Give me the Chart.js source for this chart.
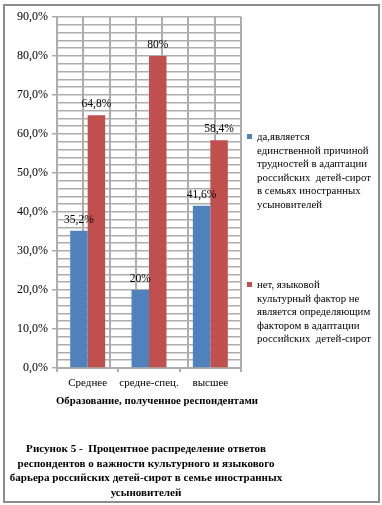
<!DOCTYPE html>
<html>
<head>
<meta charset="utf-8">
<script src="https://cdn.jsdelivr.net/npm/chart.js@4"></script>
<style>
  html, body { margin: 0; padding: 0; background: #fff; }
  #wrap { position: relative; width: 382px; height: 505px; overflow: hidden; font-family: "Liberation Serif", "Times New Roman", serif; color: #000; }
  #frame { position: absolute; left: 3px; top: 4px; width: 377px; height: 499px; box-sizing: border-box; border: 2px solid #8c8c8c; }
  #chart { position: absolute; left: 0; top: 0; }
  .legend-item { position: absolute; left: 257px; font-size: 10.8px; line-height: 13.5px; white-space: pre; }
  .legend-item i { position: absolute; left: -10px; top: 4px; width: 5px; height: 5px; }
  #xtitle { position: absolute; left: 0; width: 314px; top: 394px; text-align: center; font-weight: bold; font-size: 10.8px; white-space: nowrap; }
  #caption { position: absolute; left: 0; width: 292px; top: 441px; text-align: center; font-weight: bold; font-size: 11.1px; line-height: 14.7px; white-space: pre; }
</style>
</head>
<body>
<div id="wrap">
  <div id="frame"></div>
  <canvas id="chart" width="382" height="505"></canvas>
  <div id="legend"></div>
  <div id="xtitle"></div>
  <div id="caption"></div>
</div>
<script>
const categories = ["Среднее", "средне-спец.", "высшее"];
const yesValues = [35.2, 20, 41.6];
const noValues = [64.8, 80, 58.4];
const yesLabel = ["да,является", "единственной причиной", "трудностей в адаптации", "российских  детей-сирот", "в семьях иностранных", "усыновителей"];
const noLabel = ["нет, языковой", "культурный фактор не", "является определяющим", "фактором в адаптации", "российских  детей-сирот"];
const xTitle = "Образование, полученное респондентами";
const caption = ["Рисунок 5 -  Процентное распределение ответов", "респондентов о важности культурного и языкового", "барьера российских детей-сирот в семье иностранных", "усыновителей"];

const BLUE = "#4f81bd";
const RED = "#c0504d";
const GRID = "#adadad";
const FONT = "'Liberation Serif', 'Times New Roman', serif";

function fmtPct(v) {
  return String(v).replace(".", ",") + "%";
}

/* value labels above each bar */
const barLabels = {
  id: "barLabels",
  afterDatasetsDraw(chart) {
    const ctx = chart.ctx;
    ctx.save();
    ctx.font = "11.5px " + FONT;
    ctx.fillStyle = "#000";
    ctx.textAlign = "center";
    ctx.textBaseline = "middle";
    chart.data.datasets.forEach((ds, i) => {
      chart.getDatasetMeta(i).data.forEach((bar, j) => {
        ctx.fillText(fmtPct(ds.data[j]), bar.x, bar.y - 11);
      });
    });
    ctx.restore();
  },
};

new Chart(document.getElementById("chart"), {
  type: "bar",
  data: {
    labels: categories,
    datasets: [
      { label: yesLabel.join(" "), data: yesValues, backgroundColor: BLUE, categoryPercentage: 0.57, barPercentage: 1 },
      { label: noLabel.join(" "), data: noValues, backgroundColor: RED, categoryPercentage: 0.57, barPercentage: 1 },
    ],
  },
  options: {
    responsive: false, animation: false,
    layout: { padding: { left: 0, top: 17, right: 141, bottom: 117 } },
    plugins: { legend: { display: false }, tooltip: { enabled: false } },
    scales: {
      x: {
        grid: { drawOnChartArea: false, offset: true, color: GRID, lineWidth: 2, tickLength: 4 },
        border: { color: GRID, width: 2 },
        ticks: { color: "#000", font: { family: FONT, size: 11 }, padding: 5, maxRotation: 0, minRotation: 0, autoSkip: false },
        afterFit: (s) => { s.height = 20; },
      },
      x2: {
        type: "linear", position: "top", min: -0.5, max: 2.5,
        grid: { color: GRID, lineWidth: 2, drawTicks: false },
        border: { display: false },
        ticks: { display: false, stepSize: 0.5 },
        afterFit: (s) => { s.height = 0; },
      },
      y: {
        min: 0, max: 90,
        grid: {
          color: GRID, lineWidth: 1.5, tickLength: 5,
          tickColor: (c) => (c.tick && c.tick.value % 10 === 0 ? GRID : "transparent"),
        },
        border: { color: GRID, width: 2 },
        ticks: {
          stepSize: 2, autoSkip: false, color: "#000", padding: 4,
          font: { family: FONT, size: 12 },
          callback: (v) => (v % 10 === 0 ? v.toFixed(1).replace(".", ",") + "%" : ""),
        },
        afterFit: (s) => { s.width = 57; },
      },
    },
  },
  plugins: [barLabels],
});

/* legend */
const legend = document.getElementById("legend");
[[yesLabel, BLUE, 130], [noLabel, RED, 278]].forEach(([lines, color, top]) => {
  const d = document.createElement("div");
  d.className = "legend-item";
  d.style.top = top + "px";
  d.innerHTML = '<i style="background:' + color + '"></i>' + lines.join("\n");
  legend.appendChild(d);
});

document.getElementById("xtitle").textContent = xTitle;
document.getElementById("caption").textContent = caption.join("\n");
</script>
</body>
</html>
